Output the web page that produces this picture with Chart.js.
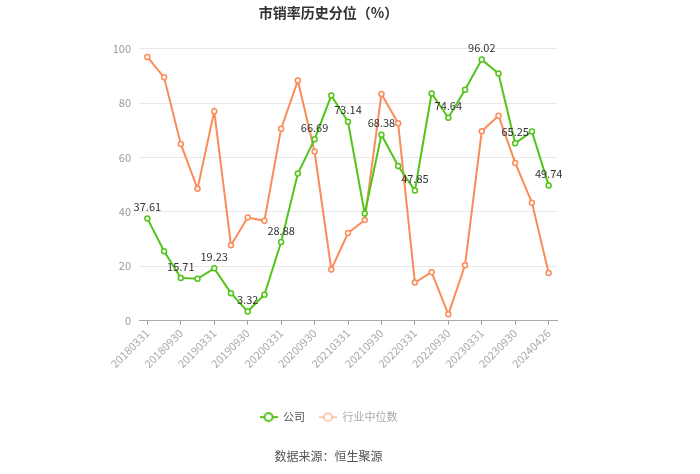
<!DOCTYPE html>
<html>
<head>
<meta charset="utf-8">
<script src="https://cdn.jsdelivr.net/npm/chart.js@4/dist/chart.umd.min.js"></script>
<style>
  html, body { margin: 0; padding: 0; background: #fff; }
  #wrap { width: 700px; height: 474px; }
</style>
</head>
<body>
<div id="wrap"><canvas id="psChart" width="700" height="474"></canvas></div>
<script>
// 日期
var dates = ['20180331', '20180630', '20180930', '20181231', '20190331', '20190630', '20190930', '20191231',
    '20200331', '20200630', '20200930', '20201231', '20210331', '20210630', '20210930', '20211231',
    '20220331', '20220630', '20220930', '20221231', '20230331', '20230630', '20230930', '20231231', '20240426'];
// 公司
var companyValues = [37.61, 25.5, 15.71, 15.4, 19.23, 10.1, 3.32, 9.5, 28.88, 54.1, 66.69, 82.8, 73.14,
    39.4, 68.38, 56.9, 47.85, 83.6, 74.64, 84.9, 96.02, 90.9, 65.25, 69.6, 49.74];
// 行业中位数
var industryValues = [97.0, 89.5, 65.0, 48.5, 77.0, 27.7, 37.9, 36.7, 70.6, 88.3, 62.2, 18.8, 32.2,
    37.0, 83.4, 72.6, 14.0, 17.8, 2.3, 20.4, 69.7, 75.4, 58.0, 43.4, 17.5];
var yTicks = [0, 20, 40, 60, 80, 100];

var fontFamily = "'Noto Sans CJK SC', 'Noto Sans', sans-serif";
var green = '#52c41a';
var orange = '#fa8c5a';

// Legend icon: line with hollow circle
function legendIcon(color) {
    var c = document.createElement('canvas');
    c.width = 18; c.height = 12;
    var g = c.getContext('2d');
    g.strokeStyle = color;
    g.lineWidth = 2;
    g.beginPath(); g.moveTo(0, 6); g.lineTo(18, 6); g.stroke();
    g.fillStyle = '#fff';
    g.beginPath(); g.arc(9, 6, 4, 0, Math.PI * 2); g.fill(); g.stroke();
    return c;
}

// Zahlen über den Punkten (jede zweite)
var valueLabels = {
    id: 'valueLabels',
    afterDatasetsDraw: function(chart) {
        var ctx = chart.ctx;
        var meta = chart.getDatasetMeta(0);
        ctx.save();
        ctx.font = '11px ' + fontFamily;
        ctx.fillStyle = '#333';
        ctx.textAlign = 'center';
        ctx.textBaseline = 'bottom';
        meta.data.forEach(function(pt, i) {
            if (i % 2 !== 0) return;
            ctx.fillText(companyValues[i].toFixed(2), pt.x, pt.y - 6);
        });
        ctx.restore();
    }
};

var ctx = document.getElementById('psChart').getContext('2d');
new Chart(ctx, {
    type: 'line',
    data: {
        labels: dates,
        datasets: [{
            label: '公司',
            data: companyValues,
            borderColor: green,
            backgroundColor: '#fff',
            borderWidth: 2,
            pointRadius: 2.5,
            pointBorderWidth: 1.5,
            pointBackgroundColor: '#fff',
            pointBorderColor: green,
            tension: 0
        }, {
            label: '行业中位数',
            data: industryValues,
            borderColor: orange,
            backgroundColor: '#fff',
            borderWidth: 2,
            pointRadius: 2.5,
            pointBorderWidth: 1.5,
            pointBackgroundColor: '#fff',
            pointBorderColor: orange,
            tension: 0
        }]
    },
    options: {
        responsive: false,
        animation: false,
        layout: { padding: { left: 100, right: 143, top: 0, bottom: 0 } },
        scales: {
            x: {
                offset: true,
                grid: { drawOnChartArea: false, drawTicks: true, tickLength: 4, color: '#999' },
                border: { color: '#aaa' },
                ticks: {
                    autoSkip: false,
                    minRotation: 45,
                    maxRotation: 45,
                    color: '#aaa',
                    font: { size: 11, family: fontFamily },
                    padding: 2,
                    callback: function(value, index) {
                        return index % 2 === 0 ? dates[index] : null;
                    }
                },
                afterFit: function(scale) { scale.height = 77; }
            },
            y: {
                min: 0,
                max: 100,
                afterBuildTicks: function(scale) {
                    scale.ticks = yTicks.map(function(v) { return { value: v }; });
                },
                grid: { color: '#e8e8e8', drawTicks: false },
                border: { display: false },
                ticks: {
                    color: '#999',
                    padding: 8,
                    font: { size: 11, family: fontFamily }
                },
                afterFit: function(scale) { scale.width = 39; }
            }
        },
        plugins: {
            title: {
                display: true,
                text: '市销率历史分位（%）',
                color: '#333',
                font: { size: 14, weight: 'bold', family: fontFamily },
                padding: { top: 4, bottom: 28 }
            },
            subtitle: {
                display: true,
                position: 'bottom',
                text: '数据来源：恒生聚源',
                color: '#555',
                font: { size: 12, family: fontFamily },
                padding: { top: 17, bottom: 10 }
            },
            legend: {
                position: 'bottom',
                labels: {
                    usePointStyle: true,
                    pointStyleWidth: 18,
                    padding: 14,
                    font: { size: 11, family: fontFamily },
                    generateLabels: function(chart) {
                        return [
                            { text: '公司', pointStyle: legendIcon(green), fontColor: '#555', datasetIndex: 0, lineWidth: 0, strokeStyle: 'transparent', fillStyle: 'transparent' },
                            { text: '行业中位数', pointStyle: legendIcon('rgba(250,140,90,0.45)'), fontColor: '#aaa', datasetIndex: 1, lineWidth: 0, strokeStyle: 'transparent', fillStyle: 'transparent' }
                        ];
                    }
                }
            },
            tooltip: { enabled: false }
        }
    },
    plugins: [valueLabels]
});
</script>
</body>
</html>
